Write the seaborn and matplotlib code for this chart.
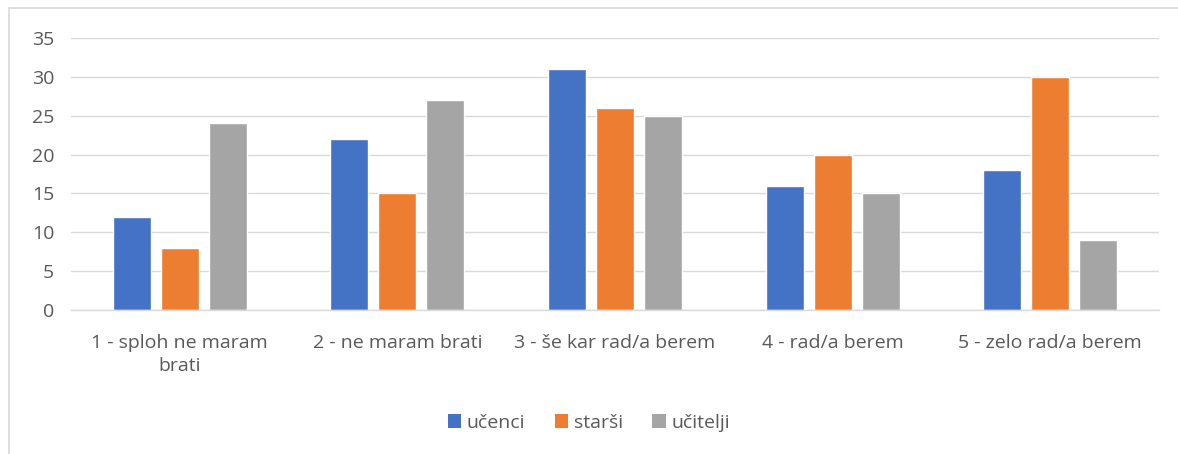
import matplotlib
matplotlib.use("Agg")
import matplotlib.pyplot as plt
import seaborn as sns
import pandas as pd
from matplotlib.lines import Line2D
from matplotlib.patches import Patch

categories = ["1 - sploh ne maram\nbrati", "2 - ne maram brati", "3 - še kar rad/a berem",
              "4 - rad/a berem", "5 - zelo rad/a berem"]
series_names = ["učenci", "starši", "učitelji"]
ucenci = [12, 22, 31, 16, 18]
starsi = [8, 15, 26, 20, 30]
ucitelji = [24, 27, 25, 15, 9]
yticks = [0, 5, 10, 15, 20, 25, 30, 35]

colors = ["#4472C4", "#ED7D31", "#A5A5A5"]
text_color = "#595959"

sns.set_theme(style="white")
plt.rcParams['font.family'] = ['Open Sans', 'DejaVu Sans']

rows = []
for name, vals in zip(series_names, [ucenci, starsi, ucitelji]):
    for c, v in zip(categories, vals):
        rows.append({"kategorija": c, "serija": name, "vrednost": v})
df = pd.DataFrame(rows)

fig = plt.figure(figsize=(11.78, 4.54), dpi=100)
ax = fig.add_axes([71/1178, 1-310/454, (1159-71)/1178, (310-38)/454])

sns.barplot(data=df, x="kategorija", y="vrednost", hue="serija", order=categories,
            hue_order=series_names, palette=colors, width=0.662, gap=0.21,
            saturation=1, ax=ax, legend=False, errorbar=None)

ax.set_ylim(0, 35)
ax.set_yticks(yticks)
ax.set_xlim(-0.5, len(categories) - 0.5)
ax.yaxis.grid(True, color="#D9D9D9", linewidth=1)
ax.set_axisbelow(True)
for s in ["top", "right", "left"]:
    ax.spines[s].set_visible(False)
ax.spines["bottom"].set_color("#D9D9D9")
ax.spines["bottom"].set_linewidth(1)
ax.set_xlabel("")
ax.set_ylabel("")
ax.tick_params(axis="both", length=0, colors=text_color, labelsize=14)
ax.tick_params(axis="y", pad=12)
ax.tick_params(axis="x", pad=17)
for lbl in ax.get_xticklabels():
    lbl.set_color(text_color)
    lbl.set_linespacing(1.4)

handles = [Patch(facecolor=c, edgecolor="none") for c in colors]
fig.legend(handles, series_names, loc="center", bbox_to_anchor=(0.5, 1-423/454),
           ncol=3, frameon=False, fontsize=14, labelcolor=text_color,
           handlelength=0.7, handleheight=0.7, handletextpad=0.3, columnspacing=1.5)

# chart border (left and top)
fig.add_artist(Line2D([8.5/1178, 8.5/1178], [0, 1-7.5/454], transform=fig.transFigure,
                      color="#D9D9D9", linewidth=1.2))
fig.add_artist(Line2D([8.5/1178, 1], [1-7.5/454, 1-7.5/454], transform=fig.transFigure,
                      color="#D9D9D9", linewidth=1.2))

fig.savefig("out.png", dpi=100)
